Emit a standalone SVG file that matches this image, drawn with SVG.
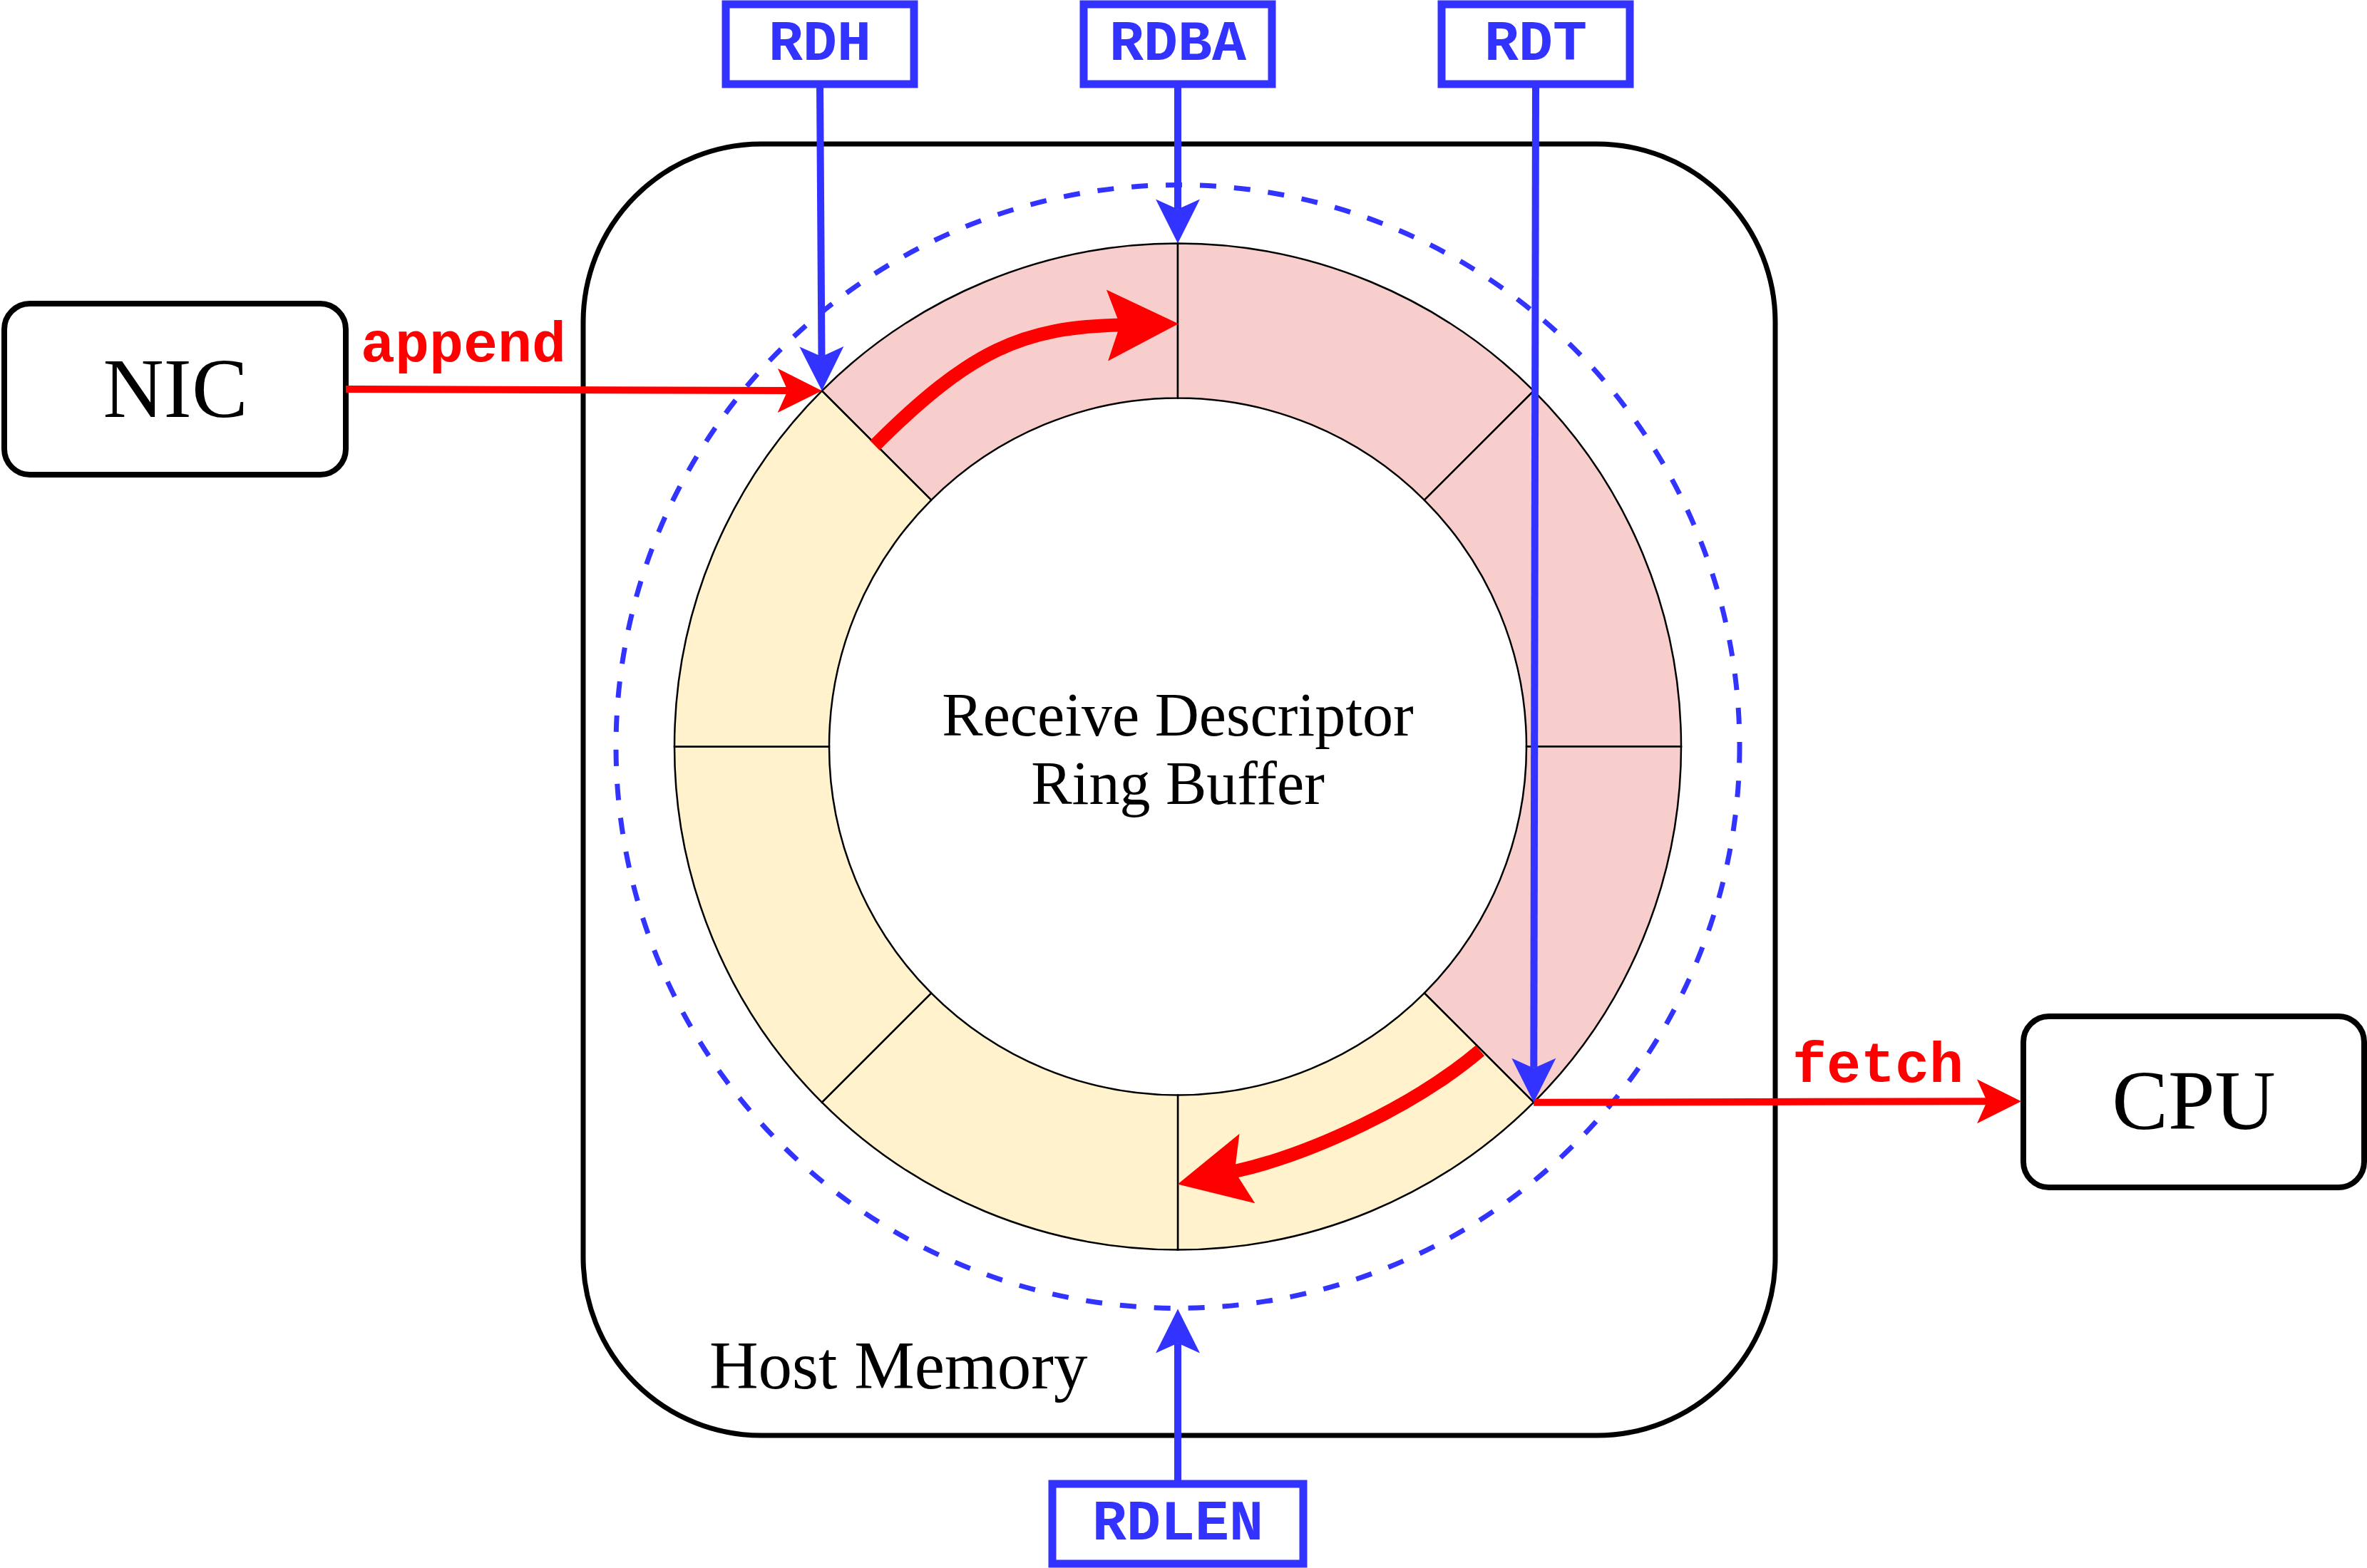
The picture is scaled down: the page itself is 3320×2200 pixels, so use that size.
<svg xmlns="http://www.w3.org/2000/svg" width="3320" height="2200" viewBox="0 0 3320 2200">
  <style>
    .serif { font-family: "Liberation Serif", "Times New Roman", serif; fill: #000000; }
    .mono { font-family: "Liberation Mono", "Courier New", monospace; font-weight: bold; }
    .reg { fill: #ffffff; stroke: #3333ff; stroke-width: 11; }
    .regtxt { fill: #3333ff; font-size: 80px; text-anchor: middle; }
    .redtxt { fill: #ff0000; font-size: 80px; text-anchor: middle; }
    .box { fill: #ffffff; stroke: #000000; stroke-width: 8; }
    .seg { stroke: #000000; stroke-width: 2.5; }
    .pink { fill: #f8cecc; }
    .yellow { fill: #fff2cc; }
    .blueline { fill: none; stroke: #3333ff; stroke-width: 10; marker-end: url(#arrowBlue); }
    .redline { fill: none; stroke: #ff0000; stroke-width: 10; marker-end: url(#arrowRed); }
    .redcurve { fill: none; stroke: #ff0000; stroke-width: 19; marker-end: url(#arrowRedBig); }
  </style>
  <defs>
    <marker id="arrowBlue" markerUnits="userSpaceOnUse" markerWidth="62" markerHeight="62" refX="14" refY="31" orient="auto" overflow="visible">
      <path d="M62,31 L0,0 L14,31 L0,62 Z" fill="#3333ff"/>
    </marker>
    <marker id="arrowRed" markerUnits="userSpaceOnUse" markerWidth="62" markerHeight="62" refX="14" refY="31" orient="auto" overflow="visible">
      <path d="M62,31 L0,0 L14,31 L0,62 Z" fill="#ff0000"/>
    </marker>
    <marker id="arrowRedBig" markerUnits="userSpaceOnUse" markerWidth="100" markerHeight="100" refX="18" refY="50" orient="auto" overflow="visible">
      <path d="M100,50 L0,0 L18,50 L0,100 Z" fill="#ff0000"/>
    </marker>
  </defs>

  <rect x="0" y="0" width="3320" height="2200" fill="#ffffff"/>

  <g id="host-memory">
    <rect x="818" y="202" width="1672" height="1812" rx="250" ry="250" fill="none" stroke="#000000" stroke-width="7"/>
    <text class="serif" x="995" y="1948" font-size="95">Host Memory</text>
  </g>

  <g id="ring-boundary">
    <circle cx="1652" cy="1047.5" r="788" fill="none" stroke="#3333ff" stroke-width="7" stroke-dasharray="23 25"/>
  </g>

  <g id="ring-buffer">
    <path id="seg1" class="seg pink" d="M1152.8,548.3 A706,706 0 0 1 1652,341.5 L1652,558.5 A489,489 0 0 0 1306.2,701.7 Z"/>
    <path id="seg2" class="seg pink" d="M1652,341.5 A706,706 0 0 1 2151.2,548.3 L1997.8,701.7 A489,489 0 0 0 1652,558.5 Z"/>
    <path id="seg3" class="seg pink" d="M2151.2,548.3 A706,706 0 0 1 2358,1047.5 L2141,1047.5 A489,489 0 0 0 1997.8,701.7 Z"/>
    <path id="seg4" class="seg pink" d="M2358,1047.5 A706,706 0 0 1 2151.2,1546.7 L1997.8,1393.3 A489,489 0 0 0 2141,1047.5 Z"/>
    <path id="seg5" class="seg yellow" d="M2151.2,1546.7 A706,706 0 0 1 1652,1753.5 L1652,1536.5 A489,489 0 0 0 1997.8,1393.3 Z"/>
    <path id="seg6" class="seg yellow" d="M1652,1753.5 A706,706 0 0 1 1152.8,1546.7 L1306.2,1393.3 A489,489 0 0 0 1652,1536.5 Z"/>
    <path id="seg7" class="seg yellow" d="M1152.8,1546.7 A706,706 0 0 1 946,1047.5 L1163,1047.5 A489,489 0 0 0 1306.2,1393.3 Z"/>
    <path id="seg8" class="seg yellow" d="M946,1047.5 A706,706 0 0 1 1152.8,548.3 L1306.2,701.7 A489,489 0 0 0 1163,1047.5 Z"/>
    <text class="serif" x="1652" y="1032" font-size="86" text-anchor="middle">Receive Descriptor</text>
    <text class="serif" x="1652" y="1128" font-size="86" text-anchor="middle">Ring Buffer</text>
  </g>

  <g id="nic">
    <rect class="box" x="6" y="426" width="479" height="240" rx="36" ry="36"/>
    <text class="serif" x="246" y="585" font-size="118" text-anchor="middle">NIC</text>
  </g>

  <g id="cpu">
    <rect class="box" x="2838" y="1426" width="478" height="240" rx="36" ry="36"/>
    <text class="serif" x="3077" y="1584" font-size="118" text-anchor="middle">CPU</text>
  </g>

  <g id="connectors">
    <path class="redcurve" d="M1227,625 C1361,491 1435,459 1571,456"/>
    <path class="redcurve" d="M2076,1474 C1984.8,1551.4 1839.2,1619.5 1731.8,1643.5"/>
    <line class="redline" x1="485" y1="546" x2="1104.8" y2="548.1"/>
    <text class="mono redtxt" x="650" y="507">append</text>
    <line class="redline" x1="2151.2" y1="1546.7" x2="2787" y2="1545.3"/>
    <text class="mono redtxt" x="2634" y="1518">fetch</text>
    <line class="blueline" x1="1150" y1="118" x2="1152.5" y2="500.3"/>
    <line class="blueline" x1="1652" y1="118" x2="1652" y2="293.5"/>
    <line class="blueline" x1="2154" y1="118" x2="2151.3" y2="1498.7"/>
    <line class="blueline" x1="1652" y1="2082" x2="1652" y2="1884.5"/>
  </g>

  <g id="rdh">
    <rect class="reg" x="1018" y="6" width="264" height="112"/>
    <text class="mono regtxt" x="1150" y="84">RDH</text>
  </g>
  <g id="rdba">
    <rect class="reg" x="1520" y="6" width="264" height="112"/>
    <text class="mono regtxt" x="1652" y="84">RDBA</text>
  </g>
  <g id="rdt">
    <rect class="reg" x="2022" y="6" width="264" height="112"/>
    <text class="mono regtxt" x="2154" y="84">RDT</text>
  </g>
  <g id="rdlen">
    <rect class="reg" x="1476" y="2082" width="352" height="112"/>
    <text class="mono regtxt" x="1652" y="2160">RDLEN</text>
  </g>
</svg>
